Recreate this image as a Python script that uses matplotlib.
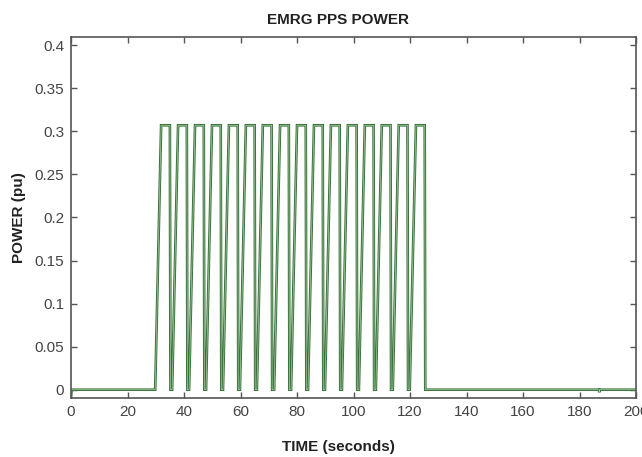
import matplotlib
matplotlib.use("Agg")
import matplotlib.pyplot as plt
import numpy as np

# --- data ---
pulse_rise_start = [29.8, 35.8, 41.8, 47.8, 53.8, 59.8, 65.8, 71.9,
                    77.9, 83.9, 89.9, 95.9, 101.9, 107.9, 113.9, 119.9]
pulse_top_start = [31.9, 37.9, 43.9, 49.9, 55.9, 61.9, 67.9, 74.0,
                   80.0, 86.0, 92.0, 98.0, 104.0, 110.0, 116.0, 122.1]
pulse_fall = [35.0, 41.0, 47.0, 53.0, 59.0, 65.0, 71.0, 77.1,
              83.1, 89.1, 95.1, 101.1, 107.1, 113.1, 119.1, 125.2]
pulse_level = 0.307
t_start, t_end = 0.0, 200.0
blip_time, blip_value = 187.0, -0.003

x_ticks = [0, 20, 40, 60, 80, 100, 120, 140, 160, 180, 200]
y_ticks = [0, 0.05, 0.1, 0.15, 0.2, 0.25, 0.3, 0.35, 0.4]
y_tick_labels = ["0", "0.05", "0.1", "0.15", "0.2", "0.25", "0.3", "0.35", "0.4"]

# build the waveform from the breakpoints
t = [t_start, 0.2]
p = [-0.008, 0.0]
for rs, ts, tf in zip(pulse_rise_start, pulse_top_start, pulse_fall):
    t += [rs, ts, tf, tf + 0.2]
    p += [0.0, pulse_level, pulse_level, 0.0]
t += [blip_time - 0.1, blip_time, blip_time + 0.1, t_end]
p += [0.0, blip_value, 0.0, 0.0]

plt.rcParams['font.family'] = ['Liberation Sans', 'DejaVu Sans']

fig = plt.figure(figsize=(6.42, 4.57), dpi=100)
ax = fig.add_axes([0.1106, 0.1284, 0.8801, 0.7916])

ax.plot(t, p, color='#3a723a', lw=1.9, solid_joinstyle='miter')
ax.plot(t, p, color='#a9cfa9', lw=0.5)

ax.set_xlim(0, 200)
ax.set_ylim(-0.01, 0.41)
ax.set_xticks(x_ticks)
ax.set_yticks(y_ticks)
ax.set_yticklabels(y_tick_labels)

for s in ax.spines.values():
    s.set_color('#555555')
    s.set_linewidth(1.2)
ax.tick_params(direction='in', length=4, width=1, colors='#555555',
               labelcolor='#444444', labelsize=11, top=True, right=True, pad=5)

title_x = (338 - 71) / 565
ax.set_title('EMRG PPS POWER', fontsize=11, fontweight='bold', color='#222222',
             pad=9, x=title_x)
ax.set_xlabel('TIME (seconds)', fontsize=11, fontweight='bold', color='#222222')
ax.xaxis.set_label_coords(title_x, -0.116)
ax.set_ylabel('POWER (pu)', fontsize=11, fontweight='bold', color='#222222', labelpad=6)

fig.savefig('out.png', dpi=100)
